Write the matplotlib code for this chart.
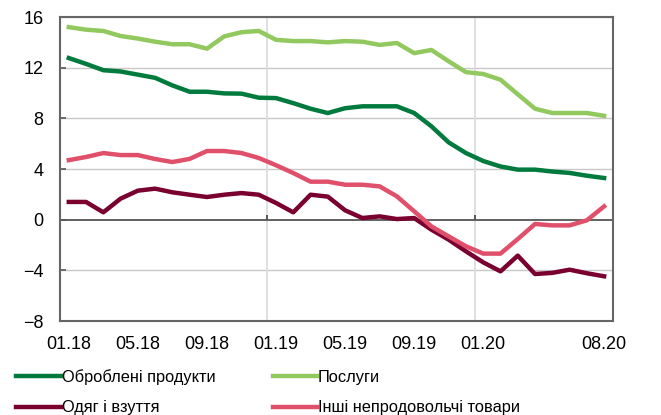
import numpy as np
import matplotlib.pyplot as plt

plt.rcParams['font.family'] = ['Liberation Sans', 'DejaVu Sans']

months = ["01.18", "02.18", "03.18", "04.18", "05.18", "06.18", "07.18", "08.18",
          "09.18", "10.18", "11.18", "12.18", "01.19", "02.19", "03.19", "04.19",
          "05.19", "06.19", "07.19", "08.19", "09.19", "10.19", "11.19", "12.19",
          "01.20", "02.20", "03.20", "04.20", "05.20", "06.20", "07.20", "08.20"]

processed = [12.76, 12.3, 11.8, 11.7, 11.45, 11.2, 10.6, 10.1, 10.1, 9.97, 9.95, 9.63,
             9.6, 9.2, 8.76, 8.42, 8.8, 8.95, 8.95, 8.95, 8.42, 7.37, 6.1, 5.26,
             4.63, 4.2, 3.95, 3.95, 3.8, 3.69, 3.47, 3.29]
services = [15.2, 15.0, 14.9, 14.5, 14.3, 14.05, 13.85, 13.85, 13.5, 14.47, 14.8, 14.9,
            14.2, 14.1, 14.1, 14.0, 14.1, 14.05, 13.8, 13.95, 13.15, 13.4, 12.5, 11.65,
            11.5, 11.05, 9.9, 8.76, 8.42, 8.42, 8.42, 8.2]
clothes = [1.4, 1.4, 0.58, 1.66, 2.29, 2.45, 2.16, 1.97, 1.79, 1.97, 2.1, 1.97,
           1.32, 0.58, 1.97, 1.82, 0.74, 0.13, 0.26, 0.05, 0.13, -0.79, -1.58, -2.5,
           -3.37, -4.08, -2.84, -4.29, -4.2, -3.95, -4.23, -4.47]
other = [4.7, 4.95, 5.26, 5.1, 5.1, 4.79, 4.55, 4.8, 5.42, 5.42, 5.26, 4.87,
         4.3, 3.68, 3.0, 3.0, 2.76, 2.76, 2.63, 1.84, 0.66, -0.53, -1.32, -2.1,
         -2.68, -2.68, -1.53, -0.34, -0.45, -0.45, -0.05, 1.05]

x = np.arange(len(months))

fig = plt.figure(figsize=(6.61, 4.15), dpi=100)
ax = fig.add_axes([0.091, 0.2265, 0.836, 0.7325])

# grid
for yv in range(-8, 17, 4):
    if yv != 0:
        ax.axhline(yv, color="#c8c8c8", lw=1, zorder=0)
for xv in [11.5, 23.5]:
    ax.axvline(xv, color="#d8dcdc", lw=1.2, zorder=0)
    ax.vlines(xv, 0, 0.35, color="#404040", lw=1.2, zorder=1)
ax.axhline(0, color="#555555", lw=1.3, zorder=1)

ax.plot(x, processed, color="#007a3d", lw=3.2, label="Оброблені продукти", zorder=3)
ax.plot(x, clothes, color="#7a0030", lw=3.2, label="Одяг і взуття", zorder=3)
ax.plot(x, services, color="#92c95f", lw=3.2, label="Послуги", zorder=3)
ax.plot(x, other, color="#e0506a", lw=3.2, label="Інші непродовольчі товари", zorder=3)

ax.set_xlim(-0.5, 31.5)
ax.set_ylim(-8, 16)
ax.set_yticks(range(-8, 17, 4))
tick_pos = [0, 4, 8, 12, 16, 20, 24, 31]
ax.set_xticks(tick_pos)
ax.set_xticklabels([months[i] for i in tick_pos])
ax.tick_params(axis="x", length=0, pad=11, labelsize=13)
ax.tick_params(axis="y", direction="in", length=4, width=1.2, color="#555555",
               pad=12, labelsize=13)

for s in ax.spines.values():
    s.set_color("#666666")
    s.set_linewidth(1.5)

fig.legend(loc="upper left", bbox_to_anchor=(0.015, 0.127), ncol=2, frameon=False,
           fontsize=11.8, handlelength=2.7, handletextpad=0.05, columnspacing=3.5,
           labelspacing=0.95, borderaxespad=0)

fig.savefig("out.png", dpi=100)
